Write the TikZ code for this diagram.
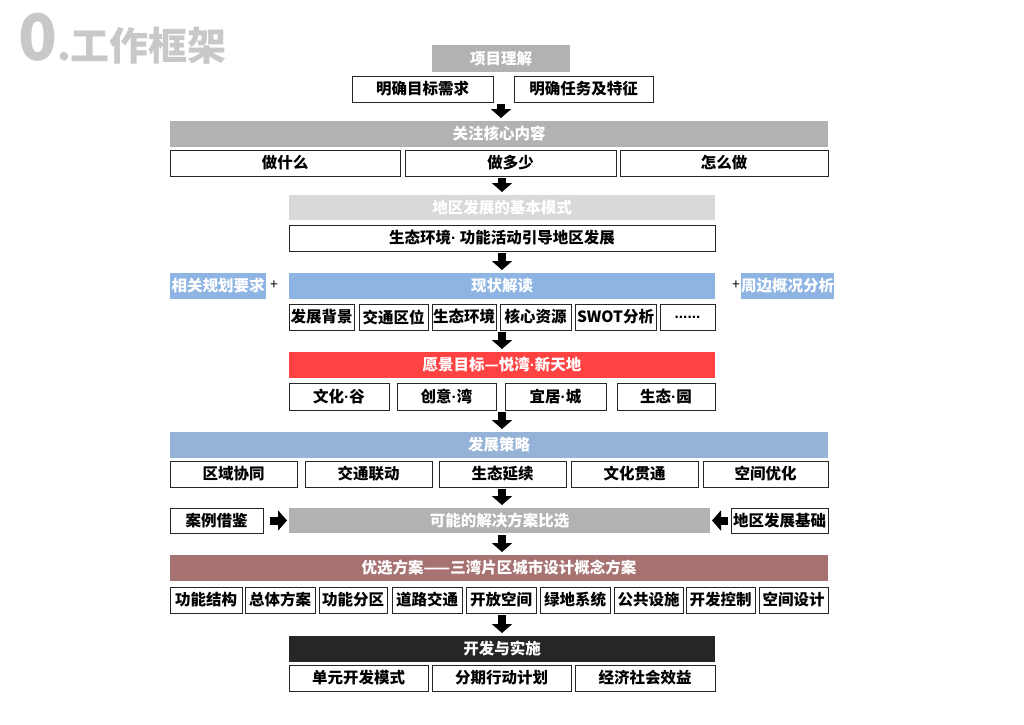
\documentclass[tikz,border=0pt]{standalone}
\usepackage{fontspec}
\setmainfont{Noto Sans CJK SC}
\newfontfamily\latinfont{Liberation Sans}
\usepackage{tikz}
\usetikzlibrary{positioning, arrows.meta, calc}

\definecolor{titlegray}{HTML}{C8C8C8}
\definecolor{bargray}{HTML}{B2B2B2}
\definecolor{lightgray}{HTML}{D9D9D9}
\definecolor{barblue}{HTML}{8DB4E2}
\definecolor{paleblue}{HTML}{95B3D7}
\definecolor{barred}{HTML}{FF4343}
\definecolor{barbrown}{HTML}{A77272}
\definecolor{bardark}{HTML}{262626}

\newcommand{\md}{{\latinfont\textperiodcentered}}

\begin{document}
\begin{tikzpicture}[
  x=1pt, y=-1pt,
  font=\bfseries\fontsize{15.5}{17}\selectfont,
  box/.style={draw=black!85, line width=1pt, fill=white, anchor=north west,
    minimum height=26pt, inner sep=0pt, outer sep=0pt, align=center},
  bar/.style={box, draw=none, text=white},
  arr/.style={line width=8pt, -{Triangle[length=9pt, width=20pt]}},
]
  \useasboundingbox (0,0) rectangle (1024,724);

  % title
  \node[anchor=base west, inner sep=0pt, text=titlegray] (title) at (18,60)
    {\fontsize{64}{64}\selectfont 0\fontsize{39}{39}\selectfont .工作框架};

  % project understanding
  \node[bar, fill=bargray, minimum width=138pt, minimum height=27pt] (proj) at (432,45) {项目理解};
  \node[box, minimum width=141pt] (aim)  at (352,76) {明确目标需求};
  \node[box, minimum width=139pt] (task) at (514,76) {明确任务及特征};

  % core content
  \node[bar, fill=bargray, minimum width=658pt] (focus) at (170,121) {关注核心内容};
  \node[box, minimum width=230pt] (what) at (170,150) {做什么};
  \node[box, minimum width=211pt] (much) at (405,150) {做多少};
  \node[box, minimum width=208pt] (how)  at (620,150) {怎么做};

  % basic mode
  \node[bar, fill=lightgray, minimum width=426pt, minimum height=25pt] (mode) at (289,195) {地区发展的基本模式};
  \node[box, minimum width=426pt] (guide) at (289,225) {生态环境\md{} 功能活动引导地区发展};

  % status
  \node[bar, fill=barblue, minimum width=426pt] (status) at (289,273) {现状解读};
  \node[bar, fill=barblue, minimum width=96pt] (plan) at (170,273) {相关规划要求};
  \node[bar, fill=barblue, minimum width=87pt] (around) at (741,273) {周边概况分析};
  \node[font=\fontsize{14}{14}\selectfont, inner sep=0pt] (plus1) at (274,285) {+};
  \node[font=\fontsize{14}{14}\selectfont, inner sep=0pt] (plus2) at (736,285) {+};
  \node[box, minimum width=65pt] (bg)      at (289,304) {发展背景};
  \node[box, minimum width=69pt] (traffic) at (359,304) {交通区位};
  \node[box, minimum width=64pt] (eco)     at (432,304) {生态环境};
  \node[box, minimum width=71pt] (core)    at (500,304) {核心资源};
  \node[box, minimum width=81pt] (swot)    at (575,304) {SWOT分析};
  \node[box, minimum width=55pt] (more)    at (660,304) {{\latinfont ......}};

  % vision
  \node[bar, fill=barred, minimum width=426pt] (vision) at (289,352) {愿景目标—悦湾\md 新天地};
  \node[box, minimum width=100pt, minimum height=27pt] (culture) at (289,383) {文化\md 谷};
  \node[box, minimum width=99pt,  minimum height=27pt] (idea)    at (397,383) {创意\md 湾};
  \node[box, minimum width=101pt, minimum height=27pt] (live)    at (505,383) {宜居\md 城};
  \node[box, minimum width=98pt,  minimum height=27pt] (green)   at (617,383) {生态\md 园};

  % strategy
  \node[bar, fill=paleblue, minimum width=658pt] (strategy) at (170,432) {发展策略};
  \node[box, minimum width=127pt] (region) at (170,461) {区域协同};
  \node[box, minimum width=127pt] (link)   at (305,461) {交通联动};
  \node[box, minimum width=127pt] (extend) at (439,461) {生态延续};
  \node[box, minimum width=127pt] (thread) at (571,461) {文化贯通};
  \node[box, minimum width=125pt] (space)  at (703,461) {空间优化};

  % options
  \node[box, minimum width=93pt, minimum height=25pt] (case) at (170,508) {案例借鉴};
  \node[bar, fill=bargray, minimum width=421pt, minimum height=25pt] (choose) at (289,508) {可能的解决方案比选};
  \node[box, minimum width=97pt, minimum height=25pt] (base) at (731,508) {地区发展基础};

  % preferred scheme
  \node[bar, fill=barbrown, minimum width=658pt] (best) at (170,555) {优选方案——三湾片区城市设计概念方案};
  \node[box, minimum width=72pt] (f1) at (170,587) {功能结构};
  \node[box, minimum width=70pt] (f2) at (245,587) {总体方案};
  \node[box, minimum width=68pt] (f3) at (319,587) {功能分区};
  \node[box, minimum width=70pt] (f4) at (392,587) {道路交通};
  \node[box, minimum width=70pt] (f5) at (466,587) {开放空间};
  \node[box, minimum width=70pt] (f6) at (540,587) {绿地系统};
  \node[box, minimum width=69pt] (f7) at (614,587) {公共设施};
  \node[box, minimum width=69pt] (f8) at (686,587) {开发控制};
  \node[box, minimum width=69pt] (f9) at (759,587) {空间设计};

  % implementation
  \node[bar, fill=bardark, minimum width=426pt] (impl) at (289,636) {开发与实施};
  \node[box, minimum width=139pt] (unit)    at (289,665) {单元开发模式};
  \node[box, minimum width=139pt] (phase)   at (432,665) {分期行动计划};
  \node[box, minimum width=140pt] (benefit) at (575,665) {经济社会效益};

  % arrows
  \draw[arr, shorten <=2pt, shorten >=3pt] (proj.south |- aim.south) -- (proj.south |- focus.north);
  \draw[arr, shorten <=2pt, shorten >=3pt] (mode.north |- much.south) -- (mode.north);
  \draw[arr, shorten <=2pt, shorten >=3pt] (guide.south) -- (status.north);
  \draw[arr, shorten <=2pt, shorten >=3pt] (vision.north |- core.south) -- (vision.north);
  \draw[arr, shorten <=2pt, shorten >=3pt] (vision.south |- idea.south) -- (vision.south |- strategy.north);
  \draw[arr, shorten <=2pt, shorten >=3pt] (impl.north |- extend.south) -- (impl.north |- choose.north);
  \draw[arr, shorten <=2pt, shorten >=3pt] (impl.north |- choose.south) -- (impl.north |- best.north);
  \draw[arr, shorten <=2pt, shorten >=3pt] (impl.north |- f5.south) -- (impl.north);
  \draw[arr, shorten <=7pt, shorten >=2pt] (case) -- (choose);
  \draw[arr, shorten <=3pt, shorten >=2pt] (base) -- (choose);
\end{tikzpicture}
\end{document}
